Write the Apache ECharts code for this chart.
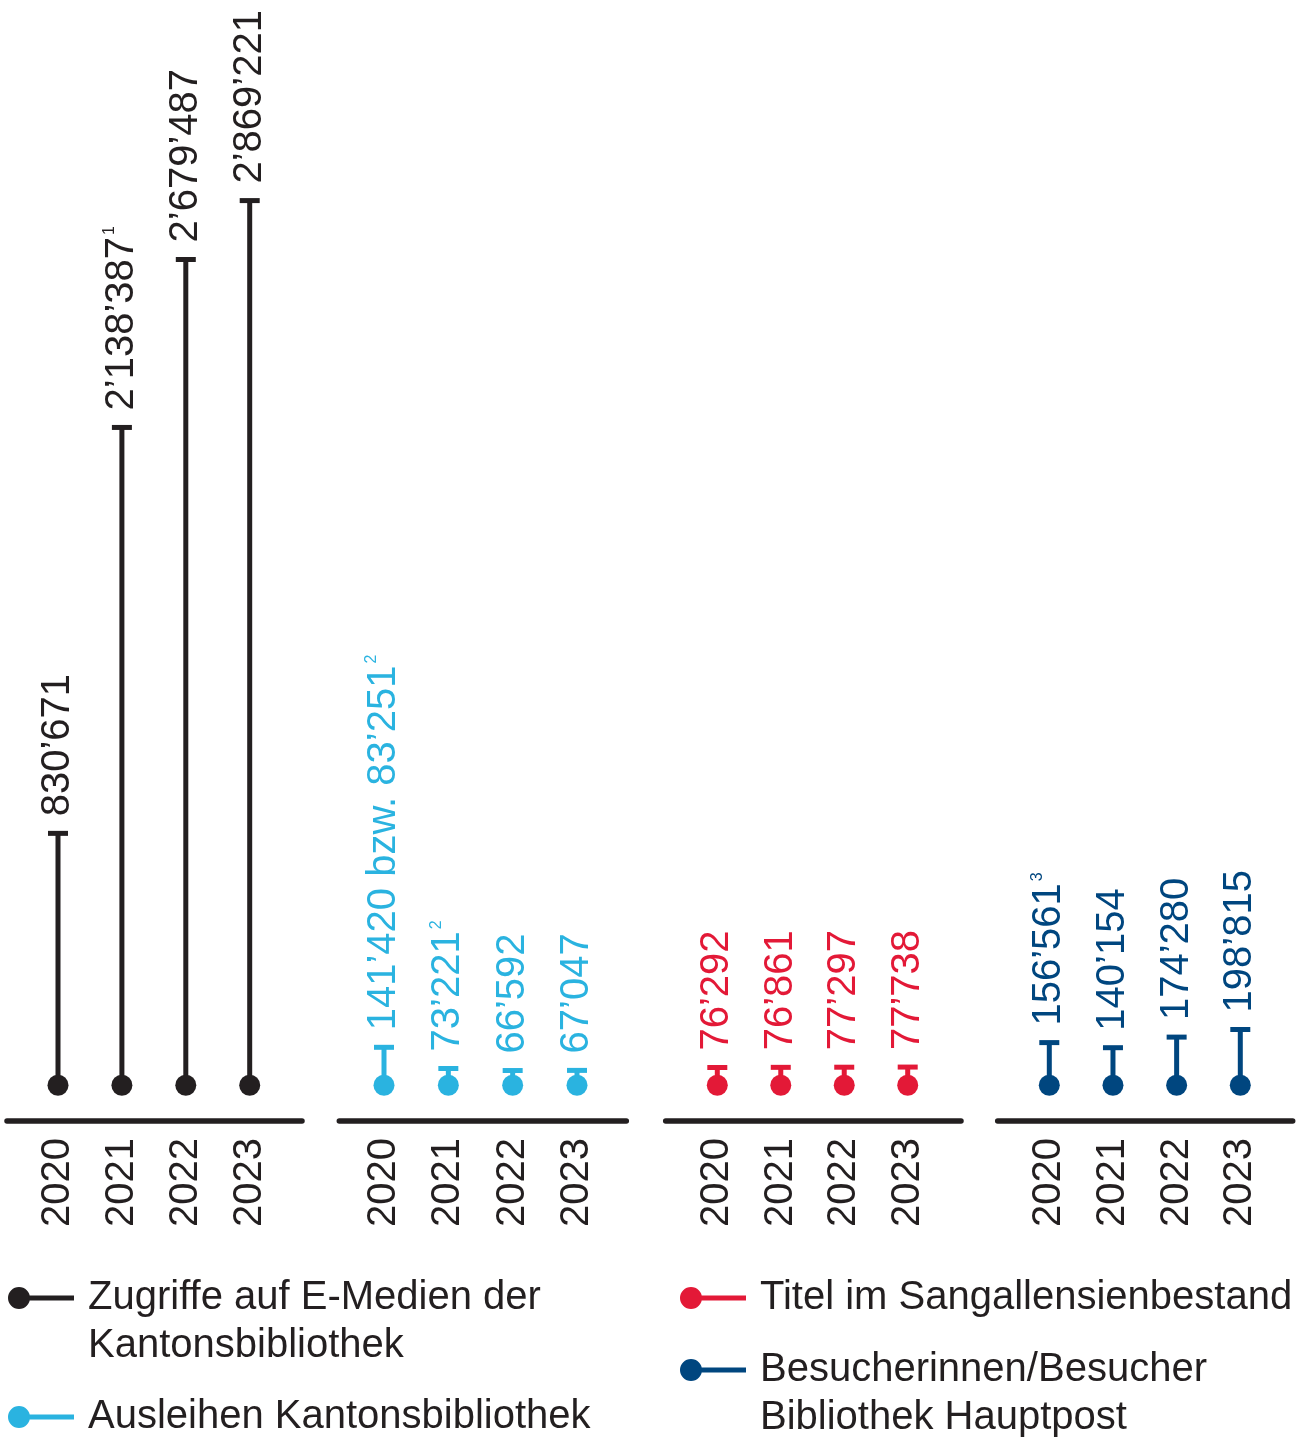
<!DOCTYPE html>
<html>
<head>
<meta charset="utf-8">
<title>Kantonsbibliothek Kennzahlen</title>
<script src="https://cdn.jsdelivr.net/npm/echarts@6/dist/echarts.min.js"></script>
<style>
  html, body { margin: 0; padding: 0; background: #fff; }
  #chart { width: 1309px; height: 1437px; }
</style>
</head>
<body>
<div id="chart"></div>
<script>
// Jahre (Kategorien)
const years = [2020, 2021, 2022, 2023]

// Zugriffe auf E-Medien der Kantonsbibliothek
const eMedien = [830671, 2138387, 2679487, 2869221]
const eMedienNotes = ['', '1', '', '']

// Ausleihen Kantonsbibliothek
const ausleihen = [141420, 73221, 66592, 67047]
const ausleihenAlt = [83251, null, null, null]
const ausleihenNotes = ['2', '2', '', '']

// Titel im Sangallensienbestand
const sangallensien = [76292, 76861, 77297, 77738]
const sangallensienNotes = ['', '', '', '']

// Besucherinnen/Besucher Bibliothek Hauptpost
const besucher = [156561, 140154, 174280, 198815]
const besucherNotes = ['3', '', '', '']

const legendLabels = [
  'Zugriffe auf E-Medien der\nKantonsbibliothek',
  'Ausleihen Kantonsbibliothek',
  'Titel im Sangallensienbestand',
  'Besucherinnen/Besucher\nBibliothek Hauptpost'
]

const FONT = '"Liberation Sans", Arial, Helvetica, sans-serif'
const TEXT = '#231f20'
const FS = 40

// Gruppen: Layout der einzelnen Achsenabschnitte
const groups = [
  { name: 'Zugriffe auf E-Medien der Kantonsbibliothek', values: eMedien, notes: eMedienNotes, alt: [],
    color: '#231f20', lineLeft: 7, lineRight: 302, firstDot: 58, lastDot: 249.7,
    legendLeft: 8, legendTop: 1226 },
  { name: 'Ausleihen Kantonsbibliothek', values: ausleihen, notes: ausleihenNotes, alt: ausleihenAlt,
    color: '#2ab3e0', lineLeft: 339.3, lineRight: 626.3, firstDot: 384, lastDot: 577,
    legendLeft: 8, legendTop: 1397 },
  { name: 'Titel im Sangallensienbestand', values: sangallensien, notes: sangallensienNotes, alt: [],
    color: '#e31937', lineLeft: 665.7, lineRight: 961, firstDot: 717.3, lastDot: 907.7,
    legendLeft: 680, legendTop: 1278 },
  { name: 'Besucherinnen/Besucher Bibliothek Hauptpost', values: besucher, notes: besucherNotes, alt: [],
    color: '#00467f', lineLeft: 997.7, lineRight: 1292.7, firstDot: 1049.3, lastDot: 1240.3,
    legendLeft: 680, legendTop: 1298 }
]

// Tausendertrennzeichen wie im Original (’)
const fmt = v => String(v).replace(/\B(?=(\d{3})+(?!\d))/g, '\u2019')

const labelText = (g, i) => {
  let s = fmt(g.values[i])
  if (g.alt[i]) s += ' bzw. ' + fmt(g.alt[i])
  if (g.notes[i]) s += '{sup|' + g.notes[i] + '}'
  return s
}

// Legendensymbol: Punkt mit Linie
const legendIcon = 'path://M0 11A11 11 0 1 1 22 11A11 11 0 1 1 0 11Z M20 8.5H66V13.5H20Z'

const renderLollipop = g => (params, api) => {
  const x = api.value(0)
  const v = api.value(1)
  const base = api.coord([x, 0])
  const top = api.coord([x, v])
  const dotY = base[1] - 6
  return {
    type: 'group',
    children: [
      { type: 'rect', shape: { x: top[0] - 2.5, y: top[1], width: 5, height: dotY - top[1] }, style: { fill: g.color } },
      { type: 'rect', shape: { x: top[0] - 10, y: top[1] - 2.5, width: 20, height: 5 }, style: { fill: g.color } },
      { type: 'circle', shape: { cx: base[0], cy: dotY, r: 10.5 }, style: { fill: g.color } },
      {
        type: 'text',
        x: top[0],
        y: top[1] - 17,
        rotation: Math.PI / 2,
        style: {
          text: labelText(g, params.dataIndex),
          fill: g.color,
          fontSize: FS,
          fontFamily: FONT,
          align: 'left',
          verticalAlign: 'middle',
          rich: {
            sup: { fontSize: 16, fontFamily: FONT, fill: g.color, verticalAlign: 'top', padding: [0, 0, 0, 2] }
          }
        }
      }
    ]
  }
}

const chart = echarts.init(document.getElementById('chart'))

const option = {
  animation: false,
  backgroundColor: '#fff',
  grid: groups.map(g => ({
    left: g.lineLeft,
    width: g.lineRight - g.lineLeft,
    top: 160,
    height: 961
  })),
  xAxis: groups.map((g, i) => {
    const step = (g.lastDot - g.firstDot) / (years.length - 1)
    return {
      gridIndex: i,
      type: 'value',
      min: years[0] - (g.firstDot - g.lineLeft) / step,
      max: years[years.length - 1] + (g.lineRight - g.lastDot) / step,
      axisLine: { show: true, onZero: false, lineStyle: { color: TEXT, width: 5.5 } },
      axisTick: { show: false },
      splitLine: { show: false },
      axisLabel: {
        customValues: years,
        rotate: 90,
        margin: 17,
        fontSize: FS,
        fontFamily: FONT,
        color: TEXT,
        formatter: v => String(v)
      }
    }
  }),
  yAxis: groups.map((g, i) => ({
    gridIndex: i,
    type: 'value',
    min: -96000,
    max: 3000000,
    show: false
  })),
  legend: groups.map((g, i) => {
    // bei zweizeiligen Einträgen eine leere Zeile davor, damit das Symbol auf Höhe der ersten Zeile steht
    const twoLines = legendLabels[i].indexOf('\n') >= 0
    return {
      data: [{ name: g.name, icon: legendIcon }],
      left: g.legendLeft,
      top: g.legendTop,
      padding: 0,
      itemWidth: 66,
      itemHeight: 22,
      selectedMode: false,
      formatter: () => (twoLines ? '\n' : '') + legendLabels[i],
      textStyle: {
        fontSize: FS,
        fontFamily: FONT,
        color: TEXT,
        lineHeight: twoLines ? 48 : 40,
        padding: [0, 0, 0, 9]
      }
    }
  }),
  series: groups.map((g, i) => ({
    name: g.name,
    type: 'custom',
    xAxisIndex: i,
    yAxisIndex: i,
    itemStyle: { color: g.color },
    encode: { x: 0, y: 1 },
    data: years.map((y, j) => [y, g.values[j]]),
    renderItem: renderLollipop(g)
  }))
}

chart.setOption(option)
window.addEventListener('resize', () => chart.resize())
</script>
</body>
</html>
